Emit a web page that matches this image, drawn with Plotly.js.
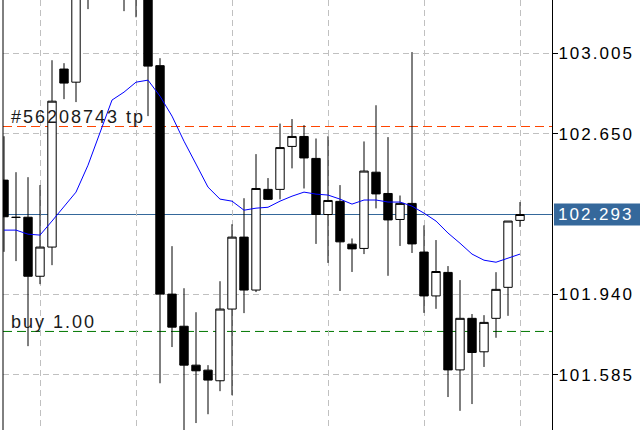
<!DOCTYPE html>
<html>
<head>
<meta charset="utf-8">
<script src="https://cdn.plot.ly/plotly-3.0.1.min.js"></script>
<style>
  html, body { margin: 0; padding: 0; background: #ffffff; }
  #chart { width: 640px; height: 430px; }
  .ytick text { letter-spacing: 2px; }
  .annotation-text { letter-spacing: 2px; }
</style>
</head>
<body>
<div id="chart"></div>
<script>
// ---- data ----
const bars = [0,1,2,3,4,5,6,7,8,9,10,11,12,13,14,15,16,17,18,19,20,21,22,23,24,25,26,27,28,29,30,31,32,33,34,35,36,37,38,39,40,41,42,43];

const openPrices = [102.445, 102.281, 102.281, 102.020, 102.149, 102.936, 102.878, 103.400, 103.300, 103.450,
                    103.380, 103.300, 103.330, 102.951, 101.941, 101.799, 101.627, 101.605, 101.558, 101.875,
                    102.193, 101.959, 102.404, 102.404, 102.594, 102.638, 102.541, 102.293, 102.351, 102.162,
                    102.143, 102.480, 102.386, 102.271, 102.342, 102.127, 101.933, 102.037, 101.606, 101.834,
                    101.686, 101.834, 101.971, 102.267];

const highPrices = [102.639, 102.480, 102.458, 102.423, 102.975, 102.962, 103.460, 103.520, 103.520, 103.550,
                    103.480, 103.420, 103.380, 102.984, 102.153, 101.967, 101.861, 101.627, 101.998, 102.250,
                    102.365, 102.560, 102.454, 102.695, 102.715, 102.688, 102.629, 102.639, 102.423, 102.187,
                    102.616, 102.776, 102.635, 102.377, 103.011, 102.245, 102.180, 102.065, 102.003, 101.853,
                    101.848, 102.038, 102.264, 102.348];

const lowPrices  = [102.128, 102.087, 101.711, 101.985, 102.069, 102.803, 102.790, 103.201, 103.260, 103.300,
                    103.192, 103.165, 102.728, 101.547, 101.707, 101.331, 101.371, 101.410, 101.512, 101.494,
                    101.857, 101.950, 102.357, 102.360, 102.497, 102.408, 102.163, 102.079, 101.955, 102.039,
                    102.118, 102.320, 102.022, 102.154, 102.123, 101.858, 101.876, 101.486, 101.425, 101.455,
                    101.619, 101.748, 101.845, 102.238];

const closePrices = [102.283, 102.280, 102.020, 102.149, 102.794, 102.874, 103.400, 103.300, 103.450, 103.380,
                     103.300, 103.350, 102.949, 101.941, 101.795, 101.627, 101.602, 101.561, 101.875, 102.193,
                     101.959, 102.408, 102.360, 102.589, 102.638, 102.543, 102.293, 102.355, 102.172, 102.141,
                     102.485, 102.384, 102.269, 102.342, 102.163, 101.933, 102.041, 101.606, 101.834, 101.683,
                     101.816, 101.962, 102.264, 102.293];

const maValues = [102.224, 102.224, 102.206, 102.202, 102.264, 102.330, 102.392, 102.511, 102.653, 102.799,
                  102.834, 102.878, 102.887, 102.816, 102.728, 102.617, 102.516, 102.414, 102.361, 102.352,
                  102.312, 102.321, 102.325, 102.352, 102.374, 102.392, 102.383, 102.379, 102.361, 102.339,
                  102.357, 102.357, 102.348, 102.348, 102.330, 102.299, 102.264, 102.211, 102.166, 102.118,
                  102.091, 102.082, 102.100, 102.118];

const priceTicks = [103.005, 102.650, 101.940, 101.585];
const gridBars = [3, 11, 19, 27, 35, 43];

const tpLevel = 102.682;
const tpLabel = "#56208743 tp";
const buyLevel = 101.776;
const buyLabel = "buy 1.00";
const lastPrice = closePrices[closePrices.length - 1];

// ---- chart ----
const FONT = '"Liberation Sans", Arial, sans-serif';
const priceBlue = '#35689b';

const traces = [
  {
    type: 'candlestick',
    x: bars,
    open: openPrices,
    high: highPrices,
    low: lowPrices,
    close: closePrices,
    increasing: { line: { color: '#000000', width: 1 }, fillcolor: '#ffffff' },
    decreasing: { line: { color: '#000000', width: 1 }, fillcolor: '#000000' },
    whiskerwidth: 0,
    hoverinfo: 'skip',
    showlegend: false
  },
  {
    type: 'scatter',
    mode: 'lines',
    x: bars,
    y: maValues,
    line: { color: '#0000ff', width: 1 },
    hoverinfo: 'skip',
    showlegend: false
  }
];

const layout = {
  width: 640,
  height: 430,
  margin: { l: 3, r: 88, t: 0, b: 0, pad: 0 },
  paper_bgcolor: '#ffffff',
  plot_bgcolor: '#ffffff',
  showlegend: false,
  hovermode: false,
  boxgap: 0.3,
  boxgroupgap: 0,
  xaxis: {
    range: [-0.0833, 45.667],
    rangeslider: { visible: false },
    tickmode: 'array',
    tickvals: gridBars,
    showticklabels: false,
    ticks: '',
    showgrid: true,
    gridcolor: '#c0c0c0',
    griddash: '6px,4px',
    gridwidth: 1,
    zeroline: false,
    showline: false,
    fixedrange: true
  },
  yaxis: {
    side: 'right',
    range: [101.3403, 103.2413],
    tickmode: 'array',
    tickvals: priceTicks,
    tickformat: '.3f',
    ticks: 'outside',
    ticklen: 5,
    tickwidth: 1,
    tickcolor: '#000000',
    ticklabelstandoff: -3,
    showline: true,
    linecolor: '#000000',
    linewidth: 1,
    showgrid: true,
    gridcolor: '#c0c0c0',
    griddash: '6px,4px',
    gridwidth: 1,
    zeroline: false,
    tickfont: { family: FONT, size: 17, color: '#000000' },
    fixedrange: true
  },
  shapes: [
    { type: 'line', xref: 'paper', yref: 'paper', x0: 0, x1: 0, y0: 0, y1: 1,
      line: { color: '#000000', width: 1 } },
    { type: 'line', layer: 'below', xref: 'paper', yref: 'y', x0: 0, x1: 1, y0: tpLevel, y1: tpLevel,
      line: { color: '#ff4500', width: 1, dash: '9px,5px' } },
    { type: 'line', layer: 'below', xref: 'paper', yref: 'y', x0: 0, x1: 1, y0: buyLevel, y1: buyLevel,
      line: { color: '#007800', width: 1, dash: '9px,5px' } },
    { type: 'line', layer: 'below', xref: 'paper', yref: 'y', x0: 0, x1: 1, y0: lastPrice, y1: lastPrice,
      line: { color: priceBlue, width: 1 } },
    { type: 'rect', xref: 'paper', yref: 'y', ysizemode: 'pixel', yanchor: lastPrice,
      x0: 1.0036, x1: 1.17, y0: -11, y1: 11,
      fillcolor: priceBlue, line: { width: 0 } }
  ],
  annotations: [
    { xref: 'paper', yref: 'y', x: 0, y: tpLevel, xanchor: 'left', yanchor: 'middle',
      xshift: 7, yshift: 10, text: tpLabel, showarrow: false, align: 'left', borderpad: 0,
      font: { family: FONT, size: 18, color: '#1a1a1a' } },
    { xref: 'paper', yref: 'y', x: 0, y: buyLevel, xanchor: 'left', yanchor: 'middle',
      xshift: 7, yshift: 9.5, text: buyLabel, showarrow: false, align: 'left', borderpad: 0,
      font: { family: FONT, size: 18, color: '#1a1a1a' } },
    { xref: 'paper', yref: 'y', x: 1, y: lastPrice, xanchor: 'left', yanchor: 'middle',
      xshift: 5, yshift: 0, text: lastPrice.toFixed(3), showarrow: false, align: 'left', borderpad: 0,
      font: { family: FONT, size: 17, color: '#ffffff' } }
  ]
};

Plotly.newPlot('chart', traces, layout, { displayModeBar: false, staticPlot: true });
</script>
</body>
</html>
